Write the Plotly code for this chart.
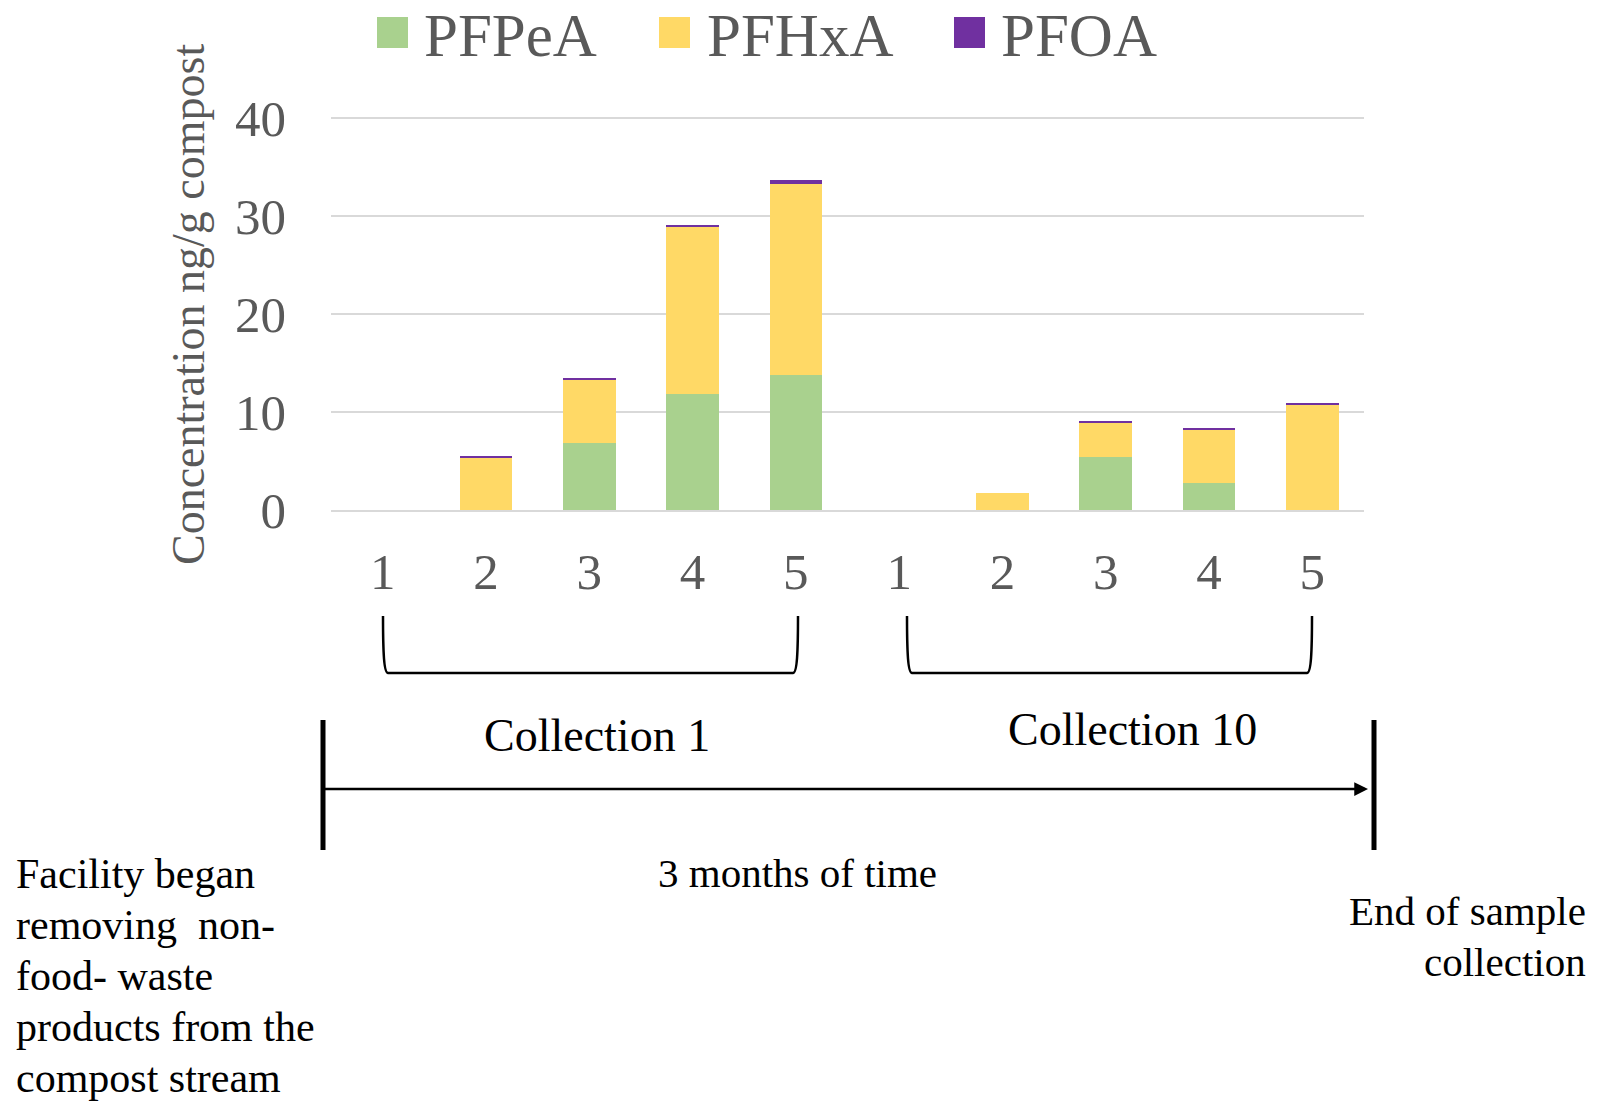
import plotly.graph_objects as go

# Samples: two collections, five samples each
positions = list(range(10))
tick_labels = ["1", "2", "3", "4", "5", "1", "2", "3", "4", "5"]

# Concentrations (ng/g compost)
pfpea = [0, 0, 6.8, 11.8, 13.8, 0, 0, 5.4, 2.8, 0]
pfhxa = [0, 5.3, 6.5, 17.1, 19.5, 0, 1.7, 3.5, 5.45, 10.8]
pfoa = [0, 0.25, 0.07, 0.12, 0.4, 0, 0, 0.12, 0.15, 0.08]

series_names = ["PFPeA", "PFHxA", "PFOA"]
series_values = [pfpea, pfhxa, pfoa]
series_colors = ["#A9D18E", "#FFD966", "#7030A0"]

y_ticks = [0, 10, 20, 30, 40]

FONT = "Liberation Serif"
GRAY = "#595959"

# Canvas and plot-area geometry (pixels)
W, H = 1598, 1102
L, R, T, B = 331, 234, 113, 592
PW = W - L - R
PH = H - T - B


def px(x):
    """Pixel x -> paper x."""
    return (x - L) / PW


def py(y):
    """Pixel y (from top) -> paper y."""
    return (H - B - y) / PH


fig = go.Figure()
for name, vals, color in zip(series_names, series_values, series_colors):
    fig.add_trace(go.Bar(
        x=positions, y=vals, name=name, width=0.51,
        marker=dict(color=color, line=dict(width=0)),
        showlegend=False,
    ))

shapes = []
annotations = []

# Legend: colored squares with labels across the top
legend_sq_x = [377, 659, 954]
legend_txt_x = [422, 705, 999]
for name, color, sx, tx in zip(series_names, series_colors, legend_sq_x, legend_txt_x):
    shapes.append(dict(type="rect", xref="paper", yref="paper",
                       x0=px(sx), x1=px(sx + 31), y0=py(48), y1=py(17),
                       fillcolor=color, line=dict(width=0)))
    annotations.append(dict(text=name, xref="paper", yref="paper",
                            x=px(tx), y=py(35), xanchor="left", yanchor="middle",
                            showarrow=False, font=dict(family=FONT, size=61, color=GRAY)))

# Y-axis title
annotations.append(dict(text="Concentration ng/g compost", xref="paper", yref="paper",
                        x=px(188), y=py(305), xanchor="center", yanchor="middle",
                        textangle=-90, showarrow=False,
                        font=dict(family=FONT, size=46, color=GRAY)))


def bracket(x0, x1, ytop, ybot):
    p = (f"M {px(x0)},{py(ytop)} "
         f"C {px(x0)},{py(ybot - 20)} {px(x0 + 1)},{py(ybot)} {px(x0 + 5)},{py(ybot)} "
         f"L {px(x1 - 5)},{py(ybot)} "
         f"C {px(x1 - 1)},{py(ybot)} {px(x1)},{py(ybot - 20)} {px(x1)},{py(ytop)}")
    return dict(type="path", xref="paper", yref="paper", path=p,
                line=dict(color="black", width=2.5))


shapes.append(bracket(383, 798, 616, 673))
shapes.append(bracket(907, 1312, 616, 673))

# Timeline end markers
for xm in (323, 1374):
    shapes.append(dict(type="line", xref="paper", yref="paper",
                       x0=px(xm), x1=px(xm), y0=py(720), y1=py(850),
                       line=dict(color="black", width=5)))

# Timeline arrow
annotations.append(dict(text="", xref="paper", yref="paper",
                        x=px(1368), y=py(789), ax=-(1368 - 323), ay=0,
                        axref="pixel", ayref="pixel", showarrow=True,
                        arrowhead=2, arrowsize=1.1, arrowwidth=2.5,
                        arrowcolor="black", standoff=0, startstandoff=0))

TXT = dict(family=FONT, color="black")

annotations.append(dict(text="Collection 1", xref="paper", yref="paper",
                        x=px(597), y=py(735), xanchor="center", yanchor="middle",
                        showarrow=False, font=dict(size=46, **TXT)))
annotations.append(dict(text="Collection 10", xref="paper", yref="paper",
                        x=px(1132), y=py(729), xanchor="center", yanchor="middle",
                        showarrow=False, font=dict(size=46, **TXT)))
annotations.append(dict(text="3 months of time", xref="paper", yref="paper",
                        x=px(797), y=py(873), xanchor="center", yanchor="middle",
                        showarrow=False, font=dict(size=41, **TXT)))

start_lines = ["Facility began", "removing  non-", "food- waste",
               "products from the", "compost stream"]
for i, line in enumerate(start_lines):
    annotations.append(dict(text=line.replace("  ", "&nbsp; "), xref="paper", yref="paper",
                            x=px(14), y=py(874 + 51 * i), xanchor="left", yanchor="middle",
                            showarrow=False, font=dict(size=42, **TXT)))

end_lines = ["End of sample", "collection"]
for i, line in enumerate(end_lines):
    annotations.append(dict(text=line, xref="paper", yref="paper",
                            x=px(1588), y=py(911 + 51 * i), xanchor="right", yanchor="middle",
                            showarrow=False, font=dict(size=41, **TXT)))

fig.update_layout(
    width=W, height=H,
    margin=dict(l=L, r=R, t=T, b=B, pad=0),
    barmode="stack",
    plot_bgcolor="white", paper_bgcolor="white",
    showlegend=False,
    shapes=shapes,
    annotations=annotations,
    xaxis=dict(range=[-0.5, 9.5], tickvals=positions, ticktext=tick_labels,
               showgrid=False, zeroline=False, showline=True,
               linecolor="#D9D9D9", linewidth=1.5, ticks="",
               ticklabelstandoff=16,
               tickfont=dict(family=FONT, size=51, color=GRAY)),
    yaxis=dict(range=[0, 40.5], tickvals=y_ticks, showgrid=True,
               gridcolor="#D9D9D9", gridwidth=1.5, zeroline=False,
               showline=False, ticks="", ticklabelstandoff=44,
               tickfont=dict(family=FONT, size=51, color=GRAY)),
)

fig.write_html("out.html")
